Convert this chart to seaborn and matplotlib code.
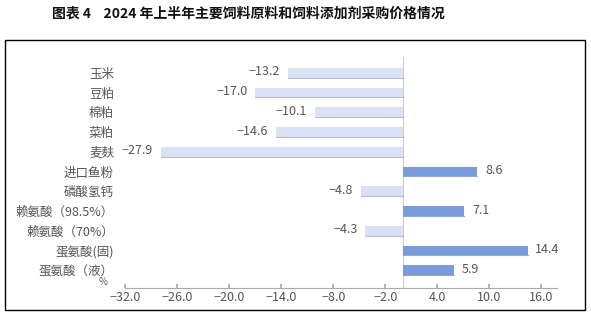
import matplotlib
matplotlib.use("Agg")
import matplotlib.pyplot as plt
import seaborn as sns
import pandas as pd
from matplotlib.patches import Rectangle

categories = ["玉米", "豆粕", "棉粕", "菜粕", "麦麸", "进口鱼粉", "磷酸氢钙",
              "赖氨酸（98.5%）", "赖氨酸（70%）", "蛋氨酸(固)", "蛋氨酸（液）"]
values = [-13.2, -17.0, -10.1, -14.6, -27.9, 8.6, -4.8, 7.1, -4.3, 14.4, 5.9]
xticks = [-32.0, -26.0, -20.0, -14.0, -8.0, -2.0, 4.0, 10.0, 16.0]
title = "图表 4    2024 年上半年主要饲料原料和饲料添加剂采购价格情况"

sns.set_theme(style="white")
plt.rcParams['font.family'] = ['Noto Sans CJK SC', 'DejaVu Sans']

df = pd.DataFrame({"cat": categories, "val": values})
df["sign"] = ["neg" if v < 0 else "pos" for v in values]

fig = plt.figure(figsize=(5.91, 3.16), dpi=100)
ax = fig.add_axes([125/591, 1-288/316, (557-125)/591, (288-57)/316])

palette = {"neg": "#d8e2f4", "pos": "#7b9cdb"}
sns.barplot(data=df, y="cat", x="val", hue="sign", palette=palette, dodge=False,
            orient="h", width=0.5, legend=False, ax=ax, edgecolor="none", saturation=1)

# shadow at bottom edge of bars
for p in ax.patches:
    x0, y0 = p.get_x(), p.get_y()
    w, h = p.get_width(), p.get_height()
    ax.plot([x0, x0 + w], [y0 + h, y0 + h], color="#8a94a8" if p.get_facecolor()[0] > 0.7 else "#5a6f9c",
            lw=0.8, alpha=0.6, zorder=3)

for i, v in enumerate(values):
    if v < 0:
        ax.text(v - 0.9, i - 0.05, f"{v:.1f}".replace("-", "−"), ha="right", va="center",
                fontsize=9, color="#555555")
    else:
        ax.text(v + 0.9, i - 0.05, f"{v:.1f}", ha="left", va="center",
                fontsize=9, color="#555555")

ax.set_xlim(-32, 17.8)
ax.set_ylim(10.9, -0.8)
ax.set_xticks(xticks)
ax.set_xticklabels([f"{t:.1f}".replace("-", "−") for t in xticks], fontsize=9, color="#555555")
ax.tick_params(axis="x", direction="in", length=3, color="#aaaaaa", pad=2, bottom=True)
ax.tick_params(axis="y", length=0, pad=8)
for lab in ax.get_yticklabels():
    lab.set_fontsize(9)
    lab.set_color("#555555")
ax.set_xlabel("")
ax.set_ylabel("")
for s in ["top", "right", "left"]:
    ax.spines[s].set_visible(False)
ax.spines["bottom"].set_color("#aaaaaa")
ax.spines["bottom"].set_linewidth(0.8)
ax.axvline(0, color="#cccccc", lw=0.8, zorder=0)

fig.text(103/591, 1-282/316, "%", fontsize=7, color="#555555", ha="center", va="center")
fig.text(248/591, 1-14/316, title, fontsize=10, fontweight="bold", ha="center", va="center",
         color="#111111")
fig.patches.append(Rectangle((5/591, 1-310/316), 580/591, (310-40)/316, transform=fig.transFigure,
                             fill=False, edgecolor="black", lw=1.0))

fig.savefig("out.png", dpi=100)
